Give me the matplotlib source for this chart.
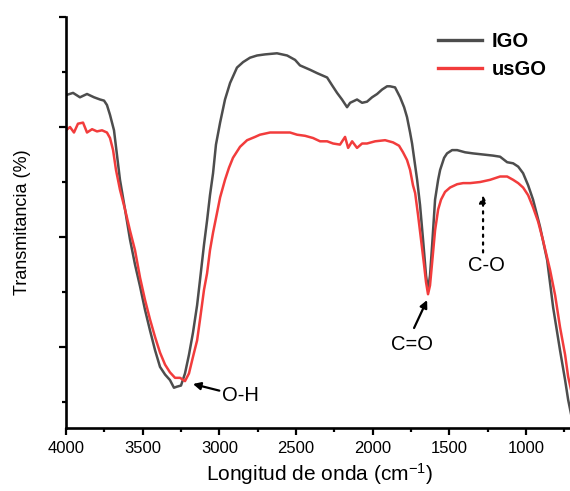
import matplotlib
matplotlib.use("Agg")
from matplotlib import pyplot as plt
from matplotlib.ticker import MultipleLocator, NullFormatter

plt.rcParams['font.family'] = ['Liberation Sans', 'DejaVu Sans']
plt.rcParams['mathtext.default'] = 'regular'

# IGO spectrum (wavenumber cm-1, transmittance a.u.)
igo_x = [4000, 3954, 3909, 3863, 3817, 3778, 3752, 3733, 3713, 3687, 3648, 3615,
         3583, 3550, 3517, 3485, 3452, 3419, 3387, 3354, 3322, 3296, 3276, 3250,
         3224, 3198, 3172, 3145, 3126, 3100, 3080, 3061, 3041, 3022, 2995, 2963,
         2930, 2885, 2845, 2800, 2754, 2702, 2624, 2558, 2506, 2474, 2408, 2363,
         2297, 2265, 2232, 2200, 2167, 2147, 2102, 2069, 2037, 2004, 1971, 1939,
         1906, 1887, 1854, 1821, 1795, 1776, 1756, 1743, 1723, 1710, 1691, 1671,
         1652, 1639, 1626, 1612, 1593, 1573, 1560, 1534, 1515, 1482, 1449, 1397,
         1345, 1280, 1215, 1169, 1123, 1084, 1051, 1019, 986, 954, 928, 908, 862,
         823, 778, 745, 725, 706]
igo_y = [32.9, 33.1, 32.7, 33.0, 32.7, 32.5, 32.4, 32.0, 31.1, 29.7, 25.2, 22.5,
         19.8, 17.5, 15.5, 13.4, 11.5, 9.7, 8.2, 7.5, 7.0, 6.3, 6.4, 6.5,
         7.6, 9.3, 11.3, 13.8, 16.1, 19.3, 21.5, 23.8, 25.8, 28.4, 30.4, 32.5,
         34.0, 35.4, 35.9, 36.3, 36.5, 36.6, 36.7, 36.5, 36.1, 35.6, 35.2, 34.9,
         34.5, 33.8, 33.1, 32.5, 31.8, 32.2, 32.5, 32.2, 32.3, 32.7, 33.0, 33.4,
         33.7, 33.7, 33.6, 32.7, 31.8, 30.9, 29.5, 28.5, 26.5, 25.2, 22.9, 19.7,
         16.5, 15.2, 16.5, 19.3, 23.4, 25.2, 26.1, 27.2, 27.6, 27.9, 27.9, 27.7,
         27.6, 27.5, 27.4, 27.3, 26.8, 26.7, 26.4, 25.8, 24.7, 23.4, 22.0, 20.9, 17.9,
         13.6, 9.7, 7.0, 5.2, 3.9]

# usGO spectrum
usgo_x = [4000, 3974, 3948, 3922, 3889, 3863, 3830, 3798, 3765, 3733, 3713, 3693,
          3674, 3648, 3615, 3583, 3550, 3517, 3485, 3452, 3419, 3387, 3354, 3322,
          3289, 3256, 3224, 3198, 3172, 3145, 3126, 3100, 3080, 3061, 3041, 3015,
          2995, 2963, 2937, 2911, 2865, 2819, 2767, 2735, 2669, 2604, 2539, 2493,
          2441, 2389, 2343, 2297, 2258, 2213, 2180, 2160, 2134, 2102, 2069, 2037,
          1984, 1919, 1867, 1828, 1802, 1776, 1756, 1737, 1723, 1704, 1684, 1665,
          1652, 1639, 1626, 1612, 1593, 1573, 1554, 1528, 1495, 1449, 1410, 1364,
          1299, 1234, 1169, 1123, 1084, 1051, 1019, 986, 954, 921, 889, 843, 810,
          778, 745, 725, 706]
usgo_y = [29.7, 30.0, 29.5, 30.3, 30.4, 29.5, 29.8, 29.6, 29.7, 29.5, 29.0, 27.9,
          26.1, 24.3, 22.5, 20.6, 18.8, 16.3, 14.3, 12.5, 10.9, 9.5, 8.4, 7.7,
          7.2, 7.2, 6.9, 7.6, 9.1, 10.6, 12.5, 15.2, 16.7, 18.8, 20.4, 22.2,
          23.6, 25.2, 26.3, 27.2, 28.2, 28.8, 29.1, 29.3, 29.5, 29.5, 29.5, 29.3,
          29.2, 29.0, 28.7, 28.7, 28.5, 28.4, 29.1, 28.1, 28.7, 28.1, 28.5, 28.5,
          28.7, 28.8, 28.6, 28.3, 27.7, 27.0, 26.1, 24.7, 24.0, 22.0, 19.7, 17.5,
          15.9, 14.8, 15.6, 17.7, 20.6, 22.5, 23.4, 24.1, 24.5, 24.8, 24.9, 24.9,
          25.0, 25.2, 25.5, 25.5, 25.2, 24.9, 24.5, 23.8, 22.7, 21.4, 19.7, 17.0, 14.7,
          11.8, 9.3, 7.3, 6.1]

fig = plt.figure(figsize=(5.70, 4.91), dpi=100)
ax = fig.add_axes([0.1158, 0.1283, 0.8877, 0.8371])

ax.plot(igo_x, igo_y, color='#4d4d4d', lw=1.8, label='IGO')
ax.plot(usgo_x, usgo_y, color='#f23c3c', lw=1.8, label='usGO')

ax.set_xlim(4000, 700)
ax.set_ylim(2.64, 40)

ax.xaxis.set_major_locator(MultipleLocator(500))
ax.xaxis.set_minor_locator(MultipleLocator(250))
ax.yaxis.set_major_locator(MultipleLocator(10))
ax.yaxis.set_minor_locator(MultipleLocator(5))
ax.yaxis.set_major_formatter(NullFormatter())

for s in ['top', 'right']:
    ax.spines[s].set_visible(False)
for s in ['left', 'bottom']:
    ax.spines[s].set_linewidth(1.9)
ax.tick_params(which='major', direction='out', length=5, width=1.6, labelsize=12,
               pad=4)
ax.tick_params(which='minor', direction='out', length=2.8, width=1.6)

ax.set_xlabel('Longitud de onda (cm$^{-1}$)', fontsize=15, labelpad=4)
ax.set_ylabel('Transmitancia (%)', fontsize=13, labelpad=16)

arrow = dict(arrowstyle='-|>', color='black', lw=1.6, mutation_scale=11,
             shrinkA=0, shrinkB=0)
ax.annotate('O-H', xy=(3172, 6.64), xytext=(2982, 5.55), fontsize=14.5,
            ha='left', va='center', arrowprops=arrow)
ax.annotate('', xy=(1645, 14.27), xytext=(1730, 11.73), arrowprops=arrow)
ax.text(1743, 10.2, 'C=O', fontsize=14.5, ha='center', va='center')
ax.annotate('', xy=(1280, 23.8), xytext=(1280, 18.6),
            arrowprops=dict(arrow, linestyle=(0, (1, 2.5))))
ax.text(1260, 17.4, 'C-O', fontsize=14.5, ha='center', va='center')

leg = ax.legend(loc='upper right', bbox_to_anchor=(0.985, 1.008), frameon=False,
                prop={'weight': 'bold', 'size': 14.5}, handlelength=2.2,
                handletextpad=0.45, labelspacing=0.45)
for h in leg.get_lines():
    h.set_linewidth(2.4)

fig.savefig('out.png', dpi=100)
